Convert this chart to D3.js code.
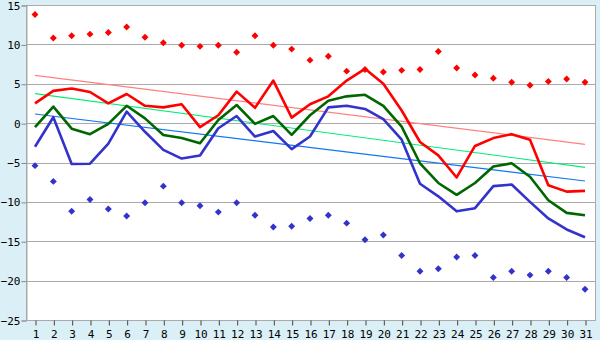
<!DOCTYPE html>
<html>
<head>
<meta charset="utf-8">
<script src="https://cdn.jsdelivr.net/npm/d3@7"></script>
<style>
  body { margin: 0; background: #daeff6; }
  svg { display: block; }
  .tick text { font-family: "DejaVu Sans Mono", monospace; font-size: 11px; fill: #000; }
</style>
</head>
<body>
<div id="app"></div>
<script>
// 数据
const days = d3.range(1, 32);
const recordMax = [13.8, 10.8, 11.1, 11.3, 11.5, 12.2, 10.9, 10.2, 9.9, 9.75, 9.9, 9.0, 11.1, 9.9, 9.4, 8.0,
  8.5, 6.6, 6.8, 6.5, 6.7, 6.8, 9.1, 7.0, 6.1, 5.7, 5.2, 4.8, 5.3, 5.6, 5.2];
const recordMin = [-5.4, -7.4, -11.2, -9.7, -10.9, -11.8, -10.1, -8.0, -10.1, -10.5, -11.3, -10.1, -11.7, -13.2,
  -13.1, -12.1, -11.7, -12.7, -14.8, -14.2, -16.8, -18.8, -18.5, -17.0, -16.8, -19.6, -18.8, -19.3, -18.8, -19.6, -21.1];
const avgMax = [2.5, 4.1, 4.4, 3.95, 2.5, 3.7, 2.2, 2.0, 2.4, -0.5, 1.0, 4.0, 1.95, 5.4, 0.7, 2.4,
  3.4, 5.4, 6.9, 5.0, 1.6, -2.4, -4.1, -6.9, -2.9, -1.9, -1.4, -2.1, -7.9, -8.7, -8.6];
const avgMean = [-0.5, 2.1, -0.7, -1.4, -0.1, 2.2, 0.6, -1.5, -1.9, -2.55, 0.4, 2.3, -0.1, 0.9, -1.5, 1.0,
  2.85, 3.4, 3.6, 2.2, -0.45, -5.1, -7.6, -9.1, -7.6, -5.5, -5.1, -6.8, -9.8, -11.4, -11.7];
const avgMin = [-3.0, 0.75, -5.2, -5.15, -2.6, 1.45, -1.1, -3.4, -4.5, -4.1, -0.65, 0.9, -1.7, -1.0, -3.3, -1.7,
  2.0, 2.2, 1.8, 0.5, -2.1, -7.7, -9.3, -11.2, -10.8, -8.0, -7.8, -10.0, -12.1, -13.5, -14.5];
// 趋势线 (第1天, 第31天)
const trendMax = [6.07, -2.69];
const trendMean = [3.74, -5.61];
const trendMin = [1.16, -7.35];
const yTicks = [15, 10, 5, 0, -5, -10, -15, -20, -25];

const width = 600, height = 340;
const plot = { left: 26, right: 595, top: 5, bottom: 320 };

const svg = d3.select('#app').append('svg')
  .attr('width', width)
  .attr('height', height);

const x = d3.scalePoint().domain(days).range([35, 585]);
const y = d3.scaleLinear().domain([-25, 15]).range([plot.bottom, plot.top]);

// 绘图区
svg.append('rect')
  .attr('x', plot.left + 0.5).attr('y', plot.top + 0.5)
  .attr('width', plot.right - plot.left).attr('height', plot.bottom - plot.top)
  .attr('fill', '#fff')
  .attr('stroke', '#aaa');

// 网格线
svg.append('g').selectAll('line')
  .data(yTicks)
  .join('line')
  .attr('x1', plot.left).attr('x2', plot.right)
  .attr('y1', d => Math.round(y(d)) + 0.5).attr('y2', d => Math.round(y(d)) + 0.5)
  .attr('stroke', '#aaa');

// 坐标轴
const yAxis = svg.append('g')
  .attr('transform', `translate(${plot.left + 0.5},0.5)`)
  .call(d3.axisLeft(y).tickValues(yTicks).tickSize(5).tickPadding(1));
yAxis.selectAll('line, path').attr('stroke', '#888');
yAxis.select('.domain').attr('stroke', '#aaa');

const xAxis = svg.append('g')
  .attr('transform', `translate(0.5,${plot.bottom + 0.5})`)
  .call(d3.axisBottom(x).tickSize(5).tickPadding(5));
xAxis.selectAll('line').attr('stroke', '#444');
xAxis.select('.domain').remove();

// 趋势线
const trends = [
  { v: trendMax, color: '#ff8080' },
  { v: trendMean, color: '#00ee77' },
  { v: trendMin, color: '#1177ee' }
];
svg.append('g').selectAll('line')
  .data(trends)
  .join('line')
  .attr('x1', x(days[0])).attr('x2', x(days[days.length - 1]))
  .attr('y1', d => y(d.v[0])).attr('y2', d => y(d.v[1]))
  .attr('stroke', d => d.color)
  .attr('stroke-width', 1.2);

// 折线
const line = d3.line()
  .x((d, i) => x(days[i]))
  .y(d => y(d));
const series = [
  { v: avgMax, color: '#ff0000' },
  { v: avgMean, color: '#006600' },
  { v: avgMin, color: '#3333cc' }
];
svg.append('g').selectAll('path')
  .data(series)
  .join('path')
  .attr('d', d => line(d.v))
  .attr('fill', 'none')
  .attr('stroke', d => d.color)
  .attr('stroke-width', 2.6)
  .attr('stroke-linejoin', 'round');

// 极值点
const symbol = d3.symbol().type(d3.symbolSquare).size(24);
const points = [
  { v: recordMax, color: '#ff0000' },
  { v: recordMin, color: '#3333cc' }
];
points.forEach(p => {
  svg.append('g').selectAll('path')
    .data(p.v)
    .join('path')
    .attr('d', symbol)
    .attr('transform', (d, i) => `translate(${x(days[i])},${y(d)}) rotate(45)`)
    .attr('fill', p.color);
});
</script>
</body>
</html>
